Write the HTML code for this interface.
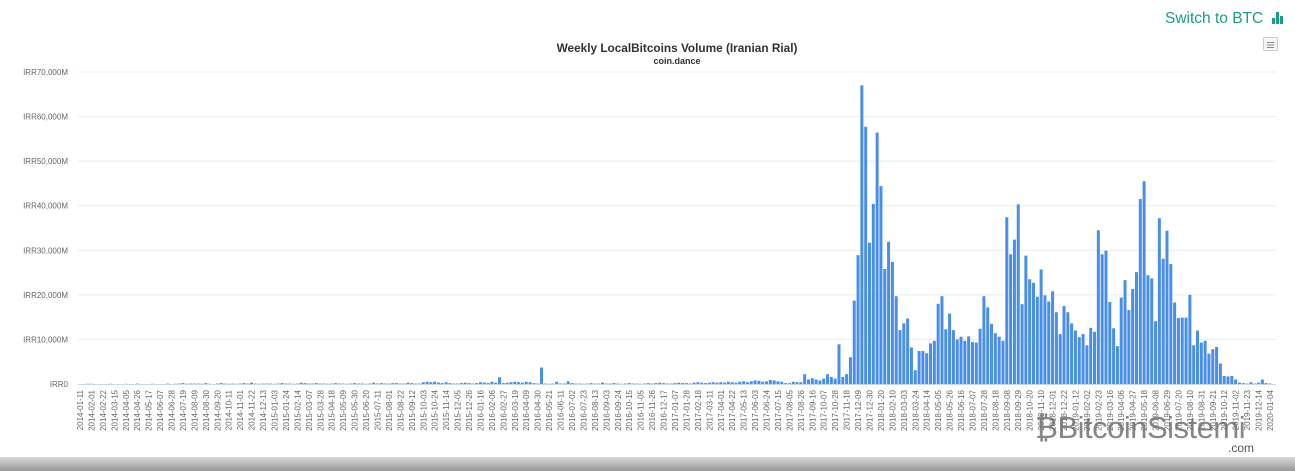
<!DOCTYPE html>
<html><head><meta charset="utf-8"><style>
body{margin:0;width:1295px;height:471px;overflow:hidden;background:#fff;font-family:"Liberation Sans",sans-serif;position:relative}
#sw{position:absolute;left:1165px;top:10px;font-size:15.5px;color:#1f9c86}
#menu{position:absolute;left:1263px;top:37px;width:13px;height:12px;border:1px solid #ccc;border-radius:2px;background:#f6f6f6}
#shadow{position:absolute;left:0;top:457px;width:1295px;height:14px;background:linear-gradient(#d8d8d8,#9a9a9a)}
#wm{position:absolute;left:1035px;top:410px;font-size:31px;color:#6a6a6a;opacity:.8;letter-spacing:-0.5px}
#wm2{position:absolute;left:1228px;top:441px;font-size:12px;color:#555}
</style></head><body>
<div id="sw">Switch to BTC <svg width="12" height="12" style="vertical-align:-1px;margin-left:4px"><rect x="0" y="6" width="3" height="6" fill="#1f9c86"/><rect x="4" y="0" width="3" height="12" fill="#1f9c86"/><rect x="8" y="4" width="3" height="8" fill="#1f9c86"/></svg></div>
<div id="menu"><svg width="13" height="12"><path d="M3 3.5h7M3 6h7M3 8.5h7" stroke="#888" stroke-width="1"/></svg></div>
<svg id="chart" width="1295" height="458" style="position:absolute;left:0;top:0"></svg>
<div id="shadow"></div>
<div id="wm">₿BitcoinSistemi</div>
<div id="wm2">.com</div>
<script>
const startDate = "2014-01-11";
const yTicks = [0,10000,20000,30000,40000,50000,60000,70000];
const earlyValues = [0,0,0.05,0.05,0,0,0,0,0.05,0,
0,0,0.05,0,0,0.1,0,0,0,0.05,
0,0,0,0.1,0,0.05,0.1,0.2,0.05,0.1,
0.1,0.1,0.05,0.2,0.05,0,0.1,0.2,0.1,0.05,
0.1,0.05,0.1,0.2,0.1,0.3,0.1,0.05,0.1,0.1,
0.1,0.05,0.1,0.2,0.1,0.1,0.05,0.1,0.3,0.2,
0.1,0.1,0.2,0.1,0.1,0.05,0.1,0.2,0.1,0.1,
0.05,0.1,0.2,0.1,0.1,0.05,0.1,0.3,0.1,0.2,
0.1,0.1,0.2,0.2,0.1,0.1,0.3,0.2,0.1,0.1,
0.4,0.5,0.4,0.5,0.3,0.2,0.4,0.2,0.1,0.1,
0.2,0.3,0.2,0.1,0.2,0.4,0.3,0.2,0.5,0.3,
1.5,0.2,0.3,0.4,0.5,0.4,0.3,0.5,0.4,0.2,
0.1,3.7,0.1,0.05,0.1,0.5,0.1,0.1,0.6,0.2,
0.1,0.1,0.05,0.1,0.2,0.1,0.1,0.3,0.1,0.1,
0.2,0.1,0.05,0.1,0.2,0.1,0.1,0.05,0.1,0.2,
0.1,0.2,0.3,0.2,0.1,0.1,0.2,0.3,0.2,0.2,
0.1,0.3,0.4,0.3,0.2,0.3,0.4,0.3,0.4,0.3,
0.5,0.4,0.3,0.5,0.6,0.4,0.6,0.8,0.7,0.5,
0.6,0.9,0.8,0.6,0.5];
const boomValues = [0.2,0.2,0.5,0.4,0.4,2.2,1,1.3,1,0.8,
1.2,2.2,1.6,1.2,8.9,1.6,2.2,6,18.7,28.9,
67,57.7,31.7,40.4,56.4,44.4,25.8,31.9,27.4,19.7,
12.1,13.6,14.7,8.2,3.1,7.4,7.4,6.9,9.1,9.7,
18,19.7,12.3,15.8,12.1,10,10.6,9.7,10.7,9.4,
9.3,12.4,19.7,17.2,13.5,11.4,10.6,9.7,37.4,29.1,
32.4,40.3,17.9,28.8,23.5];
const lateValues = [22.7,19.6,25.7,19.9,18.5,20.8,16.1,11.2,17.5,16.1,
13.6,12,10.5,11.2,8.7,12.6,11.7,34.5,29.1,29.9,
18.4,12.5,8.5,19.4,23.3,16.6,21.3,25.1,41.5,45.5,
24.4,23.7,14.1,37.2,28.1,34.4,26.9,18.3,14.8,14.9,
14.9,20,8.7,12,9.3,9.7,6.8,7.8,8.3,4.6,
1.8,1.7,1.8,1.0,0.3,0.2,0.1,0.4,0.1,0.3,
1.0,0.2,0.1];
const values = earlyValues.concat(boomValues, lateValues).map(v => v*1000); // millions IRR

const svg = document.getElementById('chart');
const NS = 'http://www.w3.org/2000/svg';
const x0 = 80, step = 3.814, yBase = 384, yTop = 72, yMax = 70000;
const xPos = i => x0 + i*step;
const yPos = v => yBase - (v/yMax)*(yBase-yTop);
function mk(tag, attrs, txt){const e=document.createElementNS(NS,tag);for(const k in attrs)e.setAttribute(k,attrs[k]);if(txt!==undefined)e.textContent=txt;svg.appendChild(e);return e;}

let t = mk('text',{x:677,y:52,'text-anchor':'middle','font-size':11.8,'font-weight':'bold',fill:'#333','font-family':'Liberation Sans'},'Weekly LocalBitcoins Volume (Iranian Rial)');


t = mk('text',{x:677,y:64,'text-anchor':'middle','font-size':9,'font-weight':'bold',fill:'#333','font-family':'Liberation Sans'},'coin.dance');



yTicks.forEach(v=>{
  const y=yPos(v);
  if(v>0){const g=mk('line',{x1:78,x2:1276,y1:y,y2:y,stroke:'#ececec','stroke-width':1});
  
  }
  const l=mk('text',{x:68,y:y+3,'text-anchor':'end','font-size':8,fill:'#666','font-family':'Liberation Sans'},'IRR'+(v===0?'0':v.toLocaleString('en-US')+'M'));
  
  
});
const ax=mk('line',{x1:78,x2:1276,y1:yBase+0.5,y2:yBase+0.5,stroke:'#ccd6eb','stroke-width':1});



values.forEach((v,i)=>{
  const y=yPos(v);
  const b=mk('rect',{x:xPos(i)-1.5,y:y,width:3,height:Math.max(0,yBase-y),fill:'#4a8fe7'});
  
  
});

const sd=new Date(startDate+'T00:00:00Z');
for(let i=0;i<values.length;i+=3){
  const d=new Date(sd.getTime()+i*7*86400000);
  const s=d.toISOString().slice(0,10);
  const x=xPos(i)+3;
  const l=mk('text',{x:x,y:390,'text-anchor':'end','font-size':8,fill:'#666','font-family':'Liberation Sans',transform:'rotate(-90 '+x+' 390)'},s);
  
  
}
</script>
</body></html>
